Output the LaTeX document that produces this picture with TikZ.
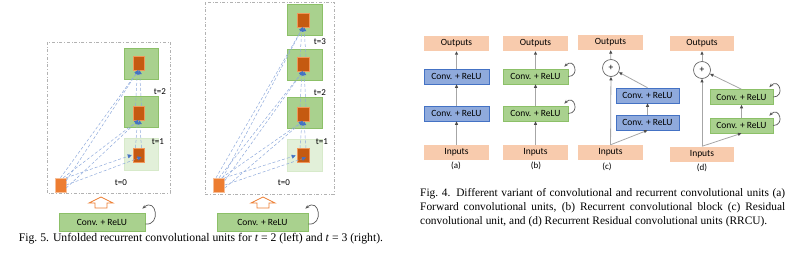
\documentclass[tikz,border=0pt]{standalone}
\usepackage{fontspec}
\setmainfont{Liberation Serif}
\newfontfamily\boxfont{Carlito}
\usetikzlibrary{arrows.meta,positioning}

\definecolor{peach}{HTML}{F8CBAD}
\definecolor{convblue}{HTML}{8FAADC}
\definecolor{convblueline}{HTML}{4472C4}
\definecolor{convgreen}{HTML}{A9D18E}
\definecolor{convgreenline}{HTML}{8CC068}
\definecolor{lightgreen}{HTML}{E2F0D9}
\definecolor{darkorange}{HTML}{C55A11}
\definecolor{inorange}{HTML}{ED7D31}
\definecolor{dashblue}{HTML}{8FAADC}
\definecolor{tipblue}{HTML}{4472C4}

\tikzset{
  io/.style={fill=peach, minimum width=65pt, minimum height=15pt, inner sep=0pt},
  blueconv/.style={draw=convblueline, fill=convblue, line width=0.6pt, minimum width=65pt, minimum height=15pt, inner sep=0pt},
  greenconv/.style={draw=convgreenline, fill=convgreen, line width=0.6pt, minimum width=65pt, minimum height=15pt, inner sep=0pt},
  sumnode/.style={circle, draw=black!60, fill=white, line width=0.7pt, minimum size=17pt, inner sep=0pt},
  stage/.style={draw=convgreenline, fill=convgreen, line width=0.5pt, minimum width=34pt, minimum height=31pt, inner sep=0pt},
  stagezero/.style={draw=lightgreen!80!convgreen, fill=lightgreen, line width=0.5pt, minimum width=34pt, minimum height=32pt, inner sep=0pt},
  fmap/.style={draw=inorange!80!white, fill=darkorange, line width=0.5pt, minimum width=11pt, minimum height=14pt, inner sep=0pt},
  inmap/.style={draw=inorange!50!white, fill=inorange, line width=0.5pt, minimum width=11pt, minimum height=14pt, inner sep=0pt},
  rec/.style={draw=dashblue, densely dashed, line width=0.5pt, -{Triangle[length=4pt,width=4pt,color=tipblue,fill=tipblue]}},
  fwd/.style={draw=black!35, line width=0.8pt, -{Triangle[length=3.5pt,width=3pt,color=black!70,fill=black!70]}},
  loopy/.style={draw=black!65, line width=0.7pt, -{Stealth[length=4pt]}},
  frame/.style={draw=black!30, dash dot, line width=0.6pt},
  hollow/.style={draw=inorange, fill=white, line width=0.8pt, line join=miter},
  tlabel/.style={font=\boxfont\fontsize{9}{10}\selectfont, inner sep=0pt},
}

\begin{document}
\begin{tikzpicture}[x=1pt, y=-1pt, font=\boxfont\fontsize{9.5}{11}\selectfont]
\useasboundingbox (0,0) rectangle (800,263);

% ---------------- Fig. 5, left: unfolded for t=2
\draw[frame] (47,42) rectangle (170,193);
\node[stage] (st2L) at (141,64) {};
\node[stage] (st1L) at (141,111.5) {};
\node[stagezero] (st0L) at (141,154.5) {};
\node[fmap] (fm2L) at (138.5,63) {};
\node[fmap] (fm1L) at (138.5,113) {};
\node[fmap] (fm0L) at (138.5,155) {};
\node[inmap] (inL) at (60.5,185) {};
\node[tlabel] (t2L) at (160,92) {t=2};
\node[tlabel] (t1L) at (158,142) {t=1};
\node[tlabel] (t0L) at (121,183) {t=0};
% recurrent connections
\draw[rec] (inL.north east) -- ([xshift=-1pt]fm0L.west);
\draw[rec] (inL.east) -- ([xshift=3pt,yshift=-2pt]fm0L.center);
\draw[rec] ([xshift=-3pt]inL.north east) -- (fm1L.south);
\draw[rec] ([yshift=-3pt]inL.east) -- (fm1L.south);
\draw[rec] (inL.north) -- (fm2L.south);
\draw[rec] ([yshift=-3pt]inL.north east) -- (fm2L.south);
\draw[rec] ([xshift=-3pt]fm0L.north) -- ([xshift=-1pt]fm1L.south);
\draw[rec] ([xshift=3pt]fm0L.north) -- ([xshift=1pt]fm1L.south);
\draw[rec] ([xshift=-3pt]fm1L.north) -- ([xshift=-1pt]fm2L.south);
\draw[rec] ([xshift=3pt]fm1L.north) -- ([xshift=1pt]fm2L.south);
% input arrow and unit
\draw[hollow] (95,208) -- (95,203) -- (89,203) -- (101,197) -- (113,203) -- (107,203) -- (107,208) -- cycle;
\node[greenconv, minimum width=86pt, minimum height=18pt] (cvL) at (102,222) {Conv. + ReLU};
\draw[loopy] ([yshift=-2pt]cvL.east) .. controls +(16,2) and +(14,-12) .. ([xshift=-3pt,yshift=4pt]cvL.north east);

% ---------------- Fig. 5, right: unfolded for t=3
\draw[frame] (205,2) rectangle (334,194);
\node[stage, minimum width=35pt] (st3R) at (304.5,20) {};
\node[stage, minimum width=35pt] (st2R) at (304.5,65) {};
\node[stage, minimum width=35pt] (st1R) at (304.5,112.5) {};
\node[stagezero, minimum width=35pt] (st0R) at (304.5,155) {};
\node[fmap, minimum width=12pt] (fm3R) at (303,20) {};
\node[fmap, minimum width=12pt] (fm2R) at (303,64) {};
\node[fmap, minimum width=12pt] (fm1R) at (303,114) {};
\node[fmap, minimum width=12pt] (fm0R) at (303,155.5) {};
\node[inmap] (inR) at (219,185) {};
\node[tlabel] (t3R) at (320,42) {t=3};
\node[tlabel] (t2R) at (320,93) {t=2};
\node[tlabel] (t1R) at (322,142) {t=1};
\node[tlabel] (t0R) at (284,183) {t=0};
% recurrent connections
\draw[rec] (inR.north east) -- ([xshift=-1pt]fm0R.west);
\draw[rec] (inR.east) -- ([xshift=3pt,yshift=-2pt]fm0R.center);
\draw[rec] ([xshift=-3pt]inR.north east) -- (fm1R.south);
\draw[rec] ([yshift=-3pt]inR.east) -- (fm1R.south);
\draw[rec] (inR.north) -- (fm2R.south);
\draw[rec] ([yshift=-3pt]inR.north east) -- (fm2R.south);
\draw[rec] ([xshift=-3pt]inR.north) -- (fm3R.south);
\draw[rec] ([xshift=-2pt]inR.north east) -- (fm3R.south);
\draw[rec] ([xshift=-3pt]fm0R.north) -- ([xshift=-1pt]fm1R.south);
\draw[rec] ([xshift=3pt]fm0R.north) -- ([xshift=1pt]fm1R.south);
\draw[rec] ([xshift=-3pt]fm1R.north) -- ([xshift=-1pt]fm2R.south);
\draw[rec] ([xshift=3pt]fm1R.north) -- ([xshift=1pt]fm2R.south);
\draw[rec] ([xshift=-3pt]fm2R.north) -- ([xshift=-1pt]fm3R.south);
\draw[rec] ([xshift=3pt]fm2R.north) -- ([xshift=1pt]fm3R.south);
% input arrow and unit
\draw[hollow] (257,208) -- (257,203) -- (251,203) -- (263,197) -- (275,203) -- (269,203) -- (269,208) -- cycle;
\node[greenconv, minimum width=91pt, minimum height=18pt] (cvR) at (262.5,222) {Conv. + ReLU};
\draw[loopy] ([yshift=-2pt]cvR.east) .. controls +(16,2) and +(14,-12) .. ([xshift=-3pt,yshift=4pt]cvR.north east);

\node[font=\rmfamily\fontsize{11.7}{13}\selectfont, inner sep=0pt] (cap5) at (201,239)
  {Fig.~5. Unfolded recurrent convolutional units for \textit{t} = 2 (left) and \textit{t} = 3 (right).};

% ---------------- Fig. 4 (a) forward
\node[io] (outA) at (456.5,43.5) {Outputs};
\node[blueconv] (c2A) at (456.5,76.5) {Conv. + ReLU};
\node[blueconv] (c1A) at (456.5,113.5) {Conv. + ReLU};
\node[io] (inA) at (456.5,152.5) {Inputs};
\node[tlabel] (labA) at (456,166) {(a)};
\draw[fwd] (inA) -- (c1A);
\draw[fwd] (c1A) -- (c2A);
\draw[fwd] (c2A) -- (outA);

% (b) recurrent
\node[io] (outB) at (535.5,43.5) {Outputs};
\node[greenconv] (c2B) at (535.5,76.5) {Conv. + ReLU};
\node[greenconv] (c1B) at (535.5,113.5) {Conv. + ReLU};
\node[io] (inB) at (535.5,152.5) {Inputs};
\node[tlabel] (labB) at (536,166) {(b)};
\draw[fwd] (inB) -- (c1B);
\draw[fwd] (c1B) -- (c2B);
\draw[fwd] (c2B) -- (outB);
\draw[loopy] (c2B.east) .. controls +(12,0) and +(10,-10) .. ([xshift=-4pt,yshift=2pt]c2B.north east);
\draw[loopy] (c1B.east) .. controls +(12,0) and +(10,-10) .. ([xshift=-4pt,yshift=2pt]c1B.north east);

% (c) residual
\node[io] (outC) at (610.5,42.5) {Outputs};
\node[sumnode] (sumC) at (611,68) {+};
\node[blueconv, minimum width=63pt] (c2C) at (647.5,95.5) {Conv. + ReLU};
\node[blueconv, minimum width=63pt] (c1C) at (647.5,122.5) {Conv. + ReLU};
\node[io] (inC) at (610.5,152.5) {Inputs};
\node[tlabel] (labC) at (607,167) {(c)};
\draw[fwd] (inC) -- (sumC);
\draw[fwd] (inC.north) -- (c1C.south);
\draw[fwd] (c1C) -- (c2C);
\draw[fwd] (c2C.north) -- (sumC);
\draw[fwd] (sumC) -- (outC);

% (d) recurrent residual
\node[io, minimum width=64pt] (outD) at (702,43.5) {Outputs};
\node[sumnode] (sumD) at (702,70) {+};
\node[greenconv, minimum width=63pt] (c2D) at (741.5,97) {Conv. + ReLU};
\node[greenconv, minimum width=63pt] (c1D) at (741.5,125.5) {Conv. + ReLU};
\node[io, minimum width=64pt] (inD) at (702,154) {Inputs};
\node[tlabel] (labD) at (702,168) {(d)};
\draw[fwd] (inD) -- (sumD);
\draw[fwd] (inD.north) -- (c1D.south);
\draw[fwd] (c1D) -- (c2D);
\draw[fwd] (c2D.north) -- (sumD);
\draw[fwd] (sumD) -- (outD);
\draw[loopy] (c2D.east) .. controls +(12,0) and +(10,-10) .. ([xshift=-4pt,yshift=2pt]c2D.north east);
\draw[loopy] (c1D.east) .. controls +(12,0) and +(10,-10) .. ([xshift=-4pt,yshift=2pt]c1D.north east);

\node[anchor=north west, text width=365pt, align=justify, inner sep=0pt,
      font=\rmfamily\fontsize{11.4}{14}\selectfont] (cap4) at (420,188)
  {Fig.~4. Different variant of convolutional and recurrent convolutional units (a)\linebreak
   Forward convolutional units, (b) Recurrent convolutional block (c) Residual\linebreak
   convolutional unit, and (d) Recurrent Residual convolutional units (RRCU).};
\end{tikzpicture}
\end{document}
